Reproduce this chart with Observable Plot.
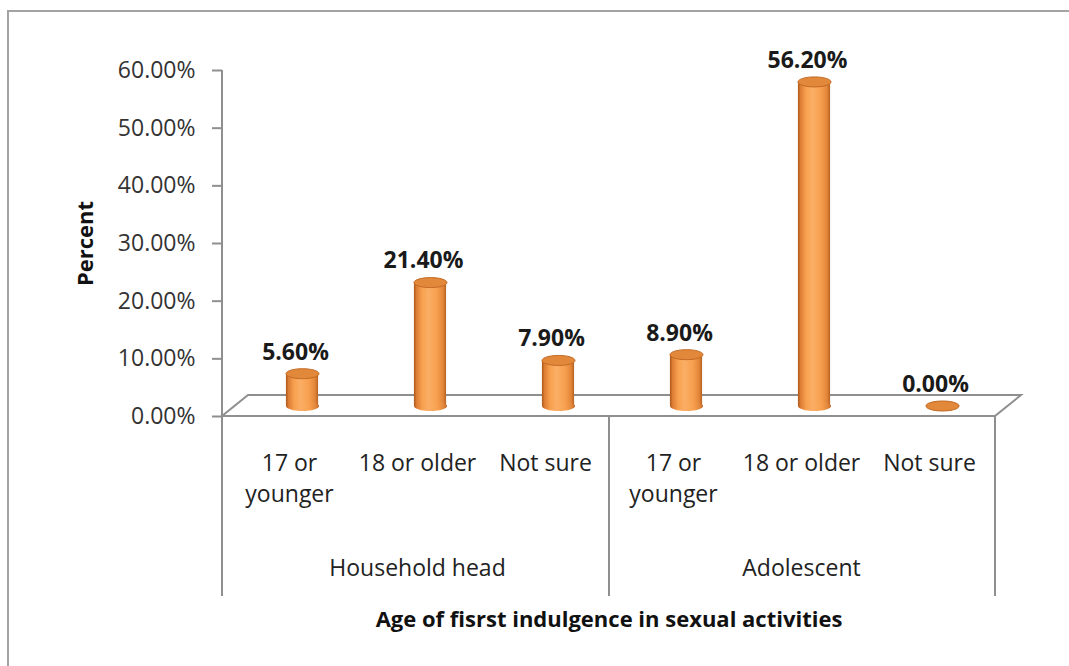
<!DOCTYPE html>
<html>
<head>
<meta charset="utf-8">
<script src="https://cdn.jsdelivr.net/npm/d3@7"></script>
<script src="https://cdn.jsdelivr.net/npm/@observablehq/plot@0.6"></script>
<style>
  html, body { margin: 0; padding: 0; background: #fff; }
  #wrap { position: relative; width: 1069px; height: 666px; overflow: hidden; }
  #edge { position: absolute; left: 7px; top: 10px; width: 2000px; height: 2000px;
          border: 2px solid #a3a3a3; pointer-events: none; }
  #wrap svg { position: absolute; left: 0; top: 0; }
</style>
</head>
<body>
<div id="wrap"><div id="edge"></div></div>
<script>
// Respondent groups, age categories and shares (percent)
const groups = ["Household head", "Household head", "Household head", "Adolescent", "Adolescent", "Adolescent"];
const ageLabels = ["17 or\nyounger", "18 or older", "Not sure", "17 or\nyounger", "18 or older", "Not sure"];
const percents = [5.6, 21.4, 7.9, 8.9, 56.2, 0.0];
const groupNames = ["Household head", "Adolescent"];
const yTicks = [0, 10, 20, 30, 40, 50, 60];
const yTitle = "Percent";
const xTitle = "Age of fisrst indulgence in sexual activities";

const keys = ageLabels.map((a, i) => groups[i] + "|" + a);
const rows = keys.map((k, i) => ({key: k, group: groups[i], age: ageLabels[i], value: percents[i]}));
const groupRows = groupNames.map(g => {
  const ks = keys.filter((k, i) => groups[i] === g);
  return {name: g, key: ks[Math.floor(ks.length / 2)]};
});

const fmt = v => v.toFixed(2) + "%";

// Layout
const W = 1069, H = 666;
const M = {left: 222, right: 74, top: 70, bottom: 250};
const FONT = "'Open Sans', Lato, sans-serif";

// Cylinder geometry (pixels)
const CYL_W = 33, CYL_RY = 5;
const DEPTH_X = 26, DEPTH_Y = -21;              // floor depth offset
const MID_X = DEPTH_X / 2, MID_Y = DEPTH_Y / 2; // cylinders stand mid-depth
const BAR_INSET = (W - M.left - M.right) / keys.length / 2 - CYL_W / 2;
const LINE = "#8f8f8f";

// Flat ellipse symbol for cylinder caps
const ellipse = {
  draw(ctx) {
    const rx = CYL_W / 2, ry = CYL_RY, k = 0.5523;
    ctx.moveTo(-rx, 0);
    ctx.bezierCurveTo(-rx, -ry * k, -rx * k, -ry, 0, -ry);
    ctx.bezierCurveTo(rx * k, -ry, rx, -ry * k, rx, 0);
    ctx.bezierCurveTo(rx, ry * k, rx * k, ry, 0, ry);
    ctx.bezierCurveTo(-rx * k, ry, -rx, ry * k, -rx, 0);
    ctx.closePath();
  }
};

// Floor, value-axis line and category dividers, derived from the scales
function frameLines(index, scales, values, dims) {
  const y0 = scales.y(0);
  const left = dims.marginLeft;
  const right = dims.width - dims.marginRight;
  const top = dims.marginTop;
  const bottom = y0 + 180;
  const mid = scales.x(keys[3]);
  const g = d3.create("svg:g")
    .attr("fill", "none").attr("stroke", LINE).attr("stroke-width", 2);
  g.append("line").attr("x1", left).attr("x2", left).attr("y1", top).attr("y2", bottom);
  g.append("path").attr("d",
    `M${left},${y0}L${right},${y0}L${right + DEPTH_X},${y0 + DEPTH_Y}L${left + DEPTH_X},${y0 + DEPTH_Y}Z`);
  for (const xv of [mid, right]) {
    g.append("line").attr("x1", xv).attr("x2", xv).attr("y1", y0).attr("y2", bottom);
  }
  return g.node();
}

const chart = Plot.plot({
  width: W,
  height: H,
  marginLeft: M.left,
  marginRight: M.right,
  marginTop: M.top,
  marginBottom: M.bottom,
  style: {fontFamily: FONT, fontSize: "23px", color: "#222", background: "transparent"},
  x: {domain: keys, padding: 0, axis: null},
  y: {domain: [0, 60], axis: null},
  marks: [
    frameLines,
    Plot.axisY({
      ticks: yTicks, tickSize: 10, tickPadding: 17, tickFormat: fmt,
      stroke: LINE, strokeWidth: 2, fill: "#333", fontSize: 23, label: null
    }),
    // cylinder bodies
    Plot.barY(rows, {
      x: "key", y: "value", fill: "url(#cylBody)",
      insetLeft: BAR_INSET, insetRight: BAR_INSET,
      dx: MID_X, dy: MID_Y
    }),
    // bottom caps
    Plot.dot(rows, {x: "key", y: () => 0, symbol: ellipse, r: 1, fill: "url(#cylBody)", stroke: "none", dx: MID_X, dy: MID_Y}),
    // top caps
    Plot.dot(rows, {x: "key", y: "value", symbol: ellipse, r: 1, fill: "#e2883a", stroke: "#c26a24", strokeWidth: 1, dx: MID_X, dy: MID_Y}),
    // value labels
    Plot.text(rows, {x: "key", y: "value", text: d => fmt(d.value), dx: 6, dy: -32, fontWeight: "bold", fontSize: 23, fill: "#1a1a1a"}),
    // category labels
    Plot.text(rows, {x: "key", text: "age", frameAnchor: "bottom", lineAnchor: "top", dy: 32, lineHeight: 1.35, fontSize: 23, fill: "#222"}),
    // group labels
    Plot.text(groupRows, {x: "key", text: "name", frameAnchor: "bottom", lineAnchor: "bottom", dy: 159, fontSize: 23, fill: "#222"}),
    // axis titles
    Plot.text([xTitle], {text: d => d, frameAnchor: "bottom", lineAnchor: "bottom", dy: 210, fontWeight: "bold", fontSize: 22, fill: "#111"}),
    Plot.text([yTitle], {text: d => d, frameAnchor: "left", textAnchor: "middle", lineAnchor: "middle", dx: -137, rotate: -90, fontWeight: "bold", fontSize: 22, fill: "#111"})
  ]
});

// Horizontal shading that gives the bars their rounded look
const defs = d3.select(chart).insert("defs", ":first-child");
const grad = defs.append("linearGradient").attr("id", "cylBody")
  .attr("x1", "0").attr("x2", "1").attr("y1", "0").attr("y2", "0");
[[0, "#a9571a"], [0.08, "#dc7d33"], [0.25, "#f7a04f"], [0.45, "#fbae66"],
 [0.7, "#f8a050"], [0.9, "#e3873a"], [1, "#b8611f"]]
  .forEach(([o, c]) => grad.append("stop").attr("offset", o).attr("stop-color", c));

document.getElementById("wrap").appendChild(chart);
</script>
</body>
</html>
